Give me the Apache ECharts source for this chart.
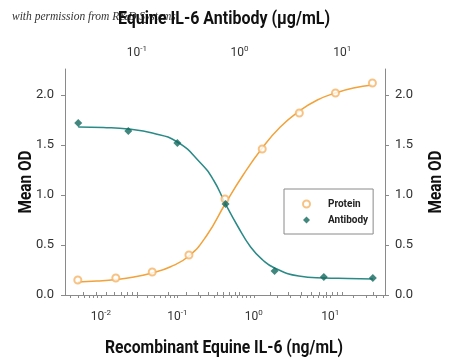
<!DOCTYPE html>
<html>
<head>
<meta charset="utf-8">
<script src="https://cdn.jsdelivr.net/npm/echarts@6/dist/echarts.min.js"></script>
<style>html,body{margin:0;padding:0;background:#fff}#c{width:450px;height:362px}</style>
</head>
<body>
<div id="c"></div>
<script>
// ---- data ----
const proteinConc = [0.005, 0.0157, 0.047, 0.142, 0.42, 1.29, 3.94, 11.7, 35.6];            // ng/mL
const proteinOD   = [0.15, 0.17, 0.23, 0.40, 0.96, 1.46, 1.82, 2.02, 2.12];
const proteinFitConc = [0.005, 0.00887, 0.0157, 0.0271, 0.0466, 0.0802, 0.142, 0.245, 0.422, 0.726, 1.29, 2.22, 3.94, 6.78, 11.7, 20.1, 35.6];
const proteinFitOD   = [0.13, 0.14, 0.155, 0.18, 0.22, 0.28, 0.39, 0.60, 0.91, 1.20, 1.47, 1.68, 1.84, 1.95, 2.02, 2.07, 2.10];

const antibodyConc = [0.0269, 0.0826, 0.248, 0.730, 2.19, 6.60, 19.8];                       // ug/mL
const antibodyOD   = [1.72, 1.64, 1.52, 0.91, 0.24, 0.18, 0.17];
const antibodyFitConc = [0.0269, 0.0471, 0.0826, 0.1416, 0.248, 0.417, 0.557, 0.730, 0.956, 1.28, 1.68, 2.19, 3.76, 6.60, 11.3, 19.8];
const antibodyFitOD   = [1.68, 1.675, 1.66, 1.62, 1.53, 1.32, 1.15, 0.91, 0.69, 0.48, 0.35, 0.27, 0.19, 0.17, 0.165, 0.16];

const bottomMajor = [0.01, 0.1, 1, 10];
const topMajor = [0.1, 1, 10];
const yTicks = [0, 0.5, 1.0, 1.5, 2.0];

const bottomRange = [0.0034, 52];
const topRange = [0.02, 26];
const yRange = [0, 2.26];

const titleTop = 'Equine IL-6 Antibody (\u00B5g/mL)';
const titleBottom = 'Recombinant Equine IL-6 (ng/mL)';
const titleY = 'Mean OD';
const watermark = 'with permission from R&D Systems';

// ---- helpers ----
function logTicks(lo, hi) {
  const out = [];
  for (let e = Math.floor(Math.log10(lo)); e <= Math.ceil(Math.log10(hi)); e++) {
    for (let m = 1; m <= 9; m++) {
      const v = Number((m * Math.pow(10, e)).toPrecision(6));
      if (v >= lo * 1.0001 && v <= hi * 0.9999) out.push(v);
    }
  }
  return out;
}
const pairs = (xs, ys) => xs.map((x, i) => [x, ys[i]]);
const FONT = "Roboto,'Noto Sans',sans-serif";
const ORANGE = '#F2A23A';
const TEAL = '#2A8A87';
const TEAL_D = '#11695E';
const AXIS = '#8a8a8a';

const ctx = document.createElement('canvas').getContext('2d');
function textW(text, font) { ctx.font = font; return ctx.measureText(text).width; }
const NAME_FONT = "bold 18px Roboto, 'Noto Sans', sans-serif";
function nameText(text, cx, cy, width, rot) {
  const s = width / textW(text, NAME_FONT);
  return {
    type: 'text', x: cx, y: cy, rotation: rot || 0, scaleX: s, z: 10,
    style: {text: text, font: NAME_FONT, fill: '#111', textAlign: 'center', textVerticalAlign: 'middle'}
  };
}

const expFmt = v => '{b|10}{s|' + Math.round(Math.log10(v)) + '}';
const richExp = {
  b: {fontSize: 12, fontFamily: FONT, color: '#333', lineHeight: 16},
  s: {fontSize: 8, fontFamily: FONT, color: '#333', verticalAlign: 'top', lineHeight: 16}
};

const chart = echarts.init(document.getElementById('c'), null, {renderer: 'canvas'});
chart.setOption({
  animation: false,
  backgroundColor: '#fff',
  graphic: [
    {type: 'text', x: 12, y: 17, z: 0,
     style: {text: watermark, font: "italic 11.5px 'Liberation Serif','DejaVu Serif',serif", fill: '#333', textVerticalAlign: 'middle'}},
    nameText(titleTop, 224, 19, 212, 0),
    nameText(titleBottom, 224, 348, 238, 0),
    nameText(titleY, 26, 182, 63, Math.PI / 2),
    nameText(titleY, 436, 182, 63, Math.PI / 2)
  ],
  grid: {left: 65, right: 65, top: 69, bottom: 67, containLabel: false},
  legend: {
    orient: 'vertical', left: 284, top: 189,
    padding: [9, 5, 8, 18], itemGap: 4,
    itemWidth: 7, itemHeight: 7,
    borderColor: AXIS, borderWidth: 1, backgroundColor: '#fff',
    textStyle: {fontFamily: FONT, fontSize: 10, fontWeight: 'bold', color: '#222', lineHeight: 12, padding: [0, 0, 0, 13]},
    data: ['Protein', 'Antibody']
  },
  xAxis: [{
    type: 'log', position: 'bottom', min: bottomRange[0], max: bottomRange[1], z: 3,
    axisLine: {show: true, lineStyle: {color: AXIS, width: 1}},
    axisTick: {show: true, inside: false, length: 3, lineStyle: {color: AXIS}, customValues: logTicks(bottomRange[0], bottomRange[1])},
    axisLabel: {customValues: bottomMajor, formatter: expFmt, rich: richExp, margin: 14},
    splitLine: {show: false}
  }, {
    type: 'log', position: 'top', min: topRange[0], max: topRange[1], z: 3,
    axisLine: {show: true, lineStyle: {color: AXIS, width: 1}},
    axisTick: {show: true, inside: false, length: 3, lineStyle: {color: AXIS}, customValues: logTicks(topRange[0], topRange[1])},
    axisLabel: {customValues: topMajor, formatter: expFmt, rich: richExp, margin: 8},
    splitLine: {show: false}
  }],
  yAxis: [{
    type: 'value', position: 'left', min: yRange[0], max: yRange[1],
    axisLine: {show: true, lineStyle: {color: AXIS}},
    axisTick: {show: true, length: 4, lineStyle: {color: AXIS}, customValues: yTicks},
    axisLabel: {customValues: yTicks, formatter: v => v.toFixed(1), fontFamily: FONT, fontSize: 13, color: '#333', margin: 11},
    splitLine: {show: false}
  }, {
    type: 'value', position: 'right', min: yRange[0], max: yRange[1],
    axisLine: {show: true, lineStyle: {color: AXIS}},
    axisTick: {show: true, length: 4, lineStyle: {color: AXIS}, customValues: yTicks},
    axisLabel: {customValues: yTicks, formatter: v => v.toFixed(1), fontFamily: FONT, fontSize: 13, color: '#333', margin: 10},
    splitLine: {show: false}
  }],
  series: [{
    name: 'ProteinFit', type: 'line', xAxisIndex: 0, yAxisIndex: 0, smooth: true, showSymbol: false,
    lineStyle: {color: ORANGE, width: 1.5}, data: pairs(proteinFitConc, proteinFitOD), z: 2
  }, {
    name: 'AntibodyFit', type: 'line', xAxisIndex: 1, yAxisIndex: 0, smooth: true, showSymbol: false,
    lineStyle: {color: TEAL, width: 1.5}, data: pairs(antibodyFitConc, antibodyFitOD), z: 2
  }, {
    name: 'Protein', type: 'scatter', xAxisIndex: 0, yAxisIndex: 0, symbol: 'emptyCircle', symbolSize: 7,
    itemStyle: {color: '#F5B466', borderColor: '#F5B466', borderWidth: 1}, data: pairs(proteinConc, proteinOD), z: 3
  }, {
    name: 'Antibody', type: 'scatter', xAxisIndex: 1, yAxisIndex: 0, symbol: 'diamond', symbolSize: 8,
    itemStyle: {color: TEAL_D}, data: pairs(antibodyConc, antibodyOD), z: 4
  }]
});
</script>
</body>
</html>
